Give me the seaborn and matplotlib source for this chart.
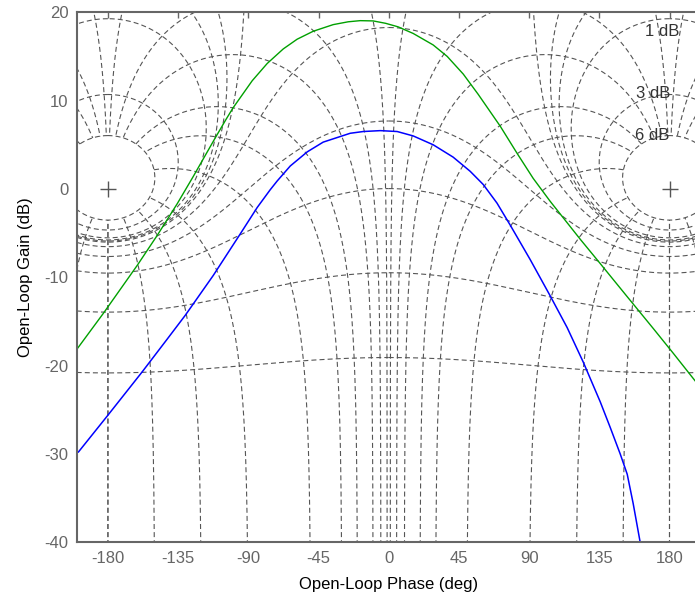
import numpy as np
import pandas as pd
import seaborn as sns
import matplotlib
matplotlib.use('Agg')
import matplotlib.pyplot as plt

# open-loop responses (phase in deg, gain in dB)
green_phase = [-199.7, -183.0, -161.2, -148.4, -135.6, -125.3, -116.3, -111.2, -104.2, -99.7,
               -87.5, -77.9, -67.6, -58.7, -48.4, -35.6, -26.0, -18.3, -10.0, -2.0,
               6.0, 15.7, 28.5, 37.5, 47.8, 57.4, 71.5, 82.4, 92.6, 103.5,
               122.8, 135.6, 152.9, 169.6, 182.4, 199.0]
green_gain = [-18.1, -14.1, -8.65, -5.26, -1.68, 1.41, 4.2, 5.78, 7.9, 9.2,
              12.25, 14.2, 15.85, 16.95, 17.85, 18.6, 18.92, 19.05, 19.02, 18.75,
              18.35, 17.6, 16.3, 15.0, 13.0, 10.7, 7.1, 4.0, 1.2, -1.4,
              -5.7, -8.45, -12.2, -15.8, -18.6, -22.3]

blue_phase = [-199.0, -180.4, -158.0, -142.0, -130.4, -112.5, -95.2, -84.3, -76.0, -71.5,
              -63.1, -52.2, -42.0, -24.7, -16.3, -5.4, 5.4, 15.7, 28.5, 41.3,
              52.2, 60.6, 69.4, 77.9, 90.7, 103.5, 114.4, 124.7, 135.6, 142.0,
              148.4, 152.9, 156.7, 161.2]
blue_gain = [-29.8, -25.7, -20.7, -17.0, -14.3, -9.8, -5.1, -2.1, -0.1, 0.9,
             2.6, 4.2, 5.3, 6.3, 6.5, 6.6, 6.5, 6.0, 5.0, 3.6,
             2.0, 0.5, -1.6, -4.1, -8.0, -12.1, -15.7, -19.6, -24.1, -27.0,
             -30.0, -32.3, -35.6, -40.0]

# Nichols grid levels
m_levels_db = [6, 3, 1, 0.5, 0.25, 0, -1, -3, -6, -12, -20, -40]
phase_levels = [1, 5, 10, 20, 30, 50, 90, 120, 150, 180]
m_labels = ['1 dB', '3 dB', '6 dB']
m_label_x = [175.0, 169.5, 169.0]
m_label_y = [17.8, 10.8, 6.0]
x_ticks = [-180, -135, -90, -45, 0, 45, 90, 135, 180]
y_ticks = [-40, -30, -20, -10, 0, 10, 20]

grid_color = '#555555'
dash = (0, (4.5, 2.8))

sns.set_style('white')
plt.rcParams['font.family'] = ['Liberation Sans', 'DejaVu Sans']
plt.rcParams['axes.unicode_minus'] = False

fig = plt.figure(figsize=(6.95, 6.01), dpi=100)
ax = fig.add_axes([0.1104, 0.0977, 0.8978, 0.8819])


# constant closed-loop magnitude contour
def m_contour(mdb):
    M = 10 ** (mdb / 20.0)
    th = np.linspace(1e-4, 2 * np.pi - 1e-4, 4000)
    T = M * np.exp(1j * th)
    G = T / (1 - T)
    return np.degrees(np.unwrap(np.angle(G))), 20 * np.log10(np.abs(G))


# constant closed-loop phase contour, stopped at the 6 dB circle
def phase_contour(psi):
    r = np.logspace(-3.5, np.log10(2.0), 4000)
    T = r * np.exp(1j * np.radians(psi))
    G = T / (1 - T)
    return np.degrees(np.unwrap(np.angle(G))), 20 * np.log10(np.abs(G))


for mdb in m_levels_db:
    ph, g = m_contour(mdb)
    for k in (-720, -360, 0, 360, 720):
        ax.plot(ph + k, g, color=grid_color, lw=0.8, ls=dash)

for p in phase_levels:
    for sign in (1, -1):
        ph, g = phase_contour(sign * p)
        for k in (-360, 0, 360):
            ax.plot(ph + k, g, color=grid_color, lw=0.8, ls=dash)

ax.plot([-180, 180], [0, 0], ls='none', marker='+', ms=11, mew=1.0, color=grid_color)

for lab, lx, ly in zip(m_labels, m_label_x, m_label_y):
    ax.text(lx, ly, lab, ha='center', va='center', fontsize=12, color='#333333')

sns.lineplot(x=green_phase, y=green_gain, sort=False, color='#00a000', lw=1.0, ax=ax)
sns.lineplot(x=blue_phase, y=blue_gain, sort=False, color='#0000ff', lw=1.1, ax=ax)

ax.set_xlim(-200, 200)
ax.set_ylim(-40, 20)
ax.set_xticks(x_ticks)
ax.set_yticks(y_ticks)
ax.tick_params(direction='in', length=4, width=1, colors='#666666', labelsize=12,
               top=True, right=True, pad=6)
for s in ax.spines.values():
    s.set_color('#666666')
    s.set_linewidth(1.5)
ax.set_xlabel('Open-Loop Phase (deg)', fontsize=12, color='black', labelpad=8)
ax.set_ylabel('Open-Loop Gain (dB)', fontsize=12, color='black', labelpad=8)

fig.savefig('out.png', dpi=100)
